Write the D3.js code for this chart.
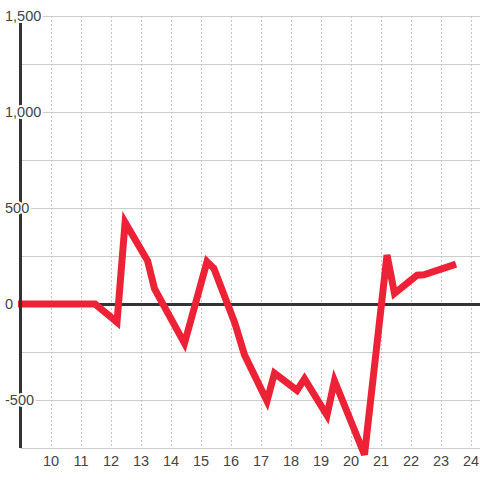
<!DOCTYPE html>
<html>
<head>
<meta charset="utf-8">
<script src="https://cdn.jsdelivr.net/npm/d3@7"></script>
<style>
  body { margin: 0; background: #fff; }
  text { font-family: "Liberation Sans", Arial, sans-serif; }
</style>
</head>
<body>
<svg id="chart" width="480" height="480"></svg>
<script>
// data
var xs = [8.9, 11.47, 12.2, 12.47, 13.22, 13.45, 14.45, 15.2, 15.43, 16.13, 16.45, 17.2, 17.45, 18.2, 18.45, 19.2, 19.45, 20.45, 21.2, 21.45, 22.2, 22.43, 23.5]
var ys = [0, 0, -95, 425, 225, 80, -205, 220, 185, -100, -265, -505, -360, -450, -390, -580, -400, -785, 255, 55, 150, 152, 208]
var xTicks = [10, 11, 12, 13, 14, 15, 16, 17, 18, 19, 20, 21, 22, 23, 24]
var yTicks = [-500, 0, 500, 1000, 1500]
var yGrid = [-500, -250, 0, 250, 500, 750, 1000, 1250, 1500]

const svg = d3.select("#chart")

var pLeft = 20.5, pRight = 480, pTop = 16, pBottom = 448

var x = d3.scaleLinear().domain([9, 24]).range([21, 471])
var y = d3.scaleLinear().domain([-750, 1500]).range([pBottom, pTop])

// horizontal grid
svg.append("g")
   .selectAll("line")
   .data(yGrid)
   .enter()
   .append("line")
   .attr("x1", pLeft)
   .attr("x2", pRight)
   .attr("y1", d => y(d) + 0.5)
   .attr("y2", d => y(d) + 0.5)
   .attr("stroke", "#cccccc")
   .attr("stroke-width", 1)

// vertical dotted grid
svg.append("g")
   .selectAll("line")
   .data(xTicks)
   .enter()
   .append("line")
   .attr("x1", d => Math.round(x(d)) + 0.5)
   .attr("x2", d => Math.round(x(d)) + 0.5)
   .attr("y1", pTop)
   .attr("y2", pBottom)
   .attr("stroke", "#c4c4c4")
   .attr("stroke-dasharray", "2,2")

// bottom line
svg.append("line")
   .attr("x1", pLeft).attr("x2", pRight)
   .attr("y1", pBottom + 0.5).attr("y2", pBottom + 0.5)
   .attr("stroke", "#cccccc")

// zero line
svg.append("line")
   .attr("x1", pLeft).attr("x2", pRight)
   .attr("y1", y(0) + 0.5).attr("y2", y(0) + 0.5)
   .attr("stroke", "#333333")
   .attr("stroke-width", 3)

// the series
var pts = xs.map((d, i) => [d, ys[i]])
var line = d3.line().x(d => x(d[0])).y(d => y(d[1]))

svg.append("path")
   .datum(pts)
   .attr("d", line)
   .attr("fill", "none")
   .attr("stroke", "#ee2236")
   .attr("stroke-width", 7)
   .attr("stroke-linejoin", "miter")
   .attr("stroke-linecap", "butt")

// y axis line
svg.append("line")
   .attr("x1", pLeft).attr("x2", pLeft)
   .attr("y1", pTop).attr("y2", pBottom)
   .attr("stroke", "#333333")
   .attr("stroke-width", 3)

// y labels with white halo
svg.append("g")
   .selectAll("text")
   .data(yTicks)
   .enter()
   .append("text")
   .attr("x", 5)
   .attr("y", d => y(d) + 5)
   .attr("font-size", 14.5)
   .attr("fill", "#444")
   .attr("stroke", "#fff")
   .attr("stroke-width", 4)
   .attr("paint-order", "stroke")
   .text(d => d3.format(",")(d).replace("\u2212", "-"))

// x labels
svg.append("g")
   .selectAll("text")
   .data(xTicks)
   .enter()
   .append("text")
   .attr("x", d => x(d))
   .attr("y", 466)
   .attr("text-anchor", "middle")
   .attr("font-size", 14.5)
   .attr("fill", "#444")
   .text(d => d)
</script>
</body>
</html>
